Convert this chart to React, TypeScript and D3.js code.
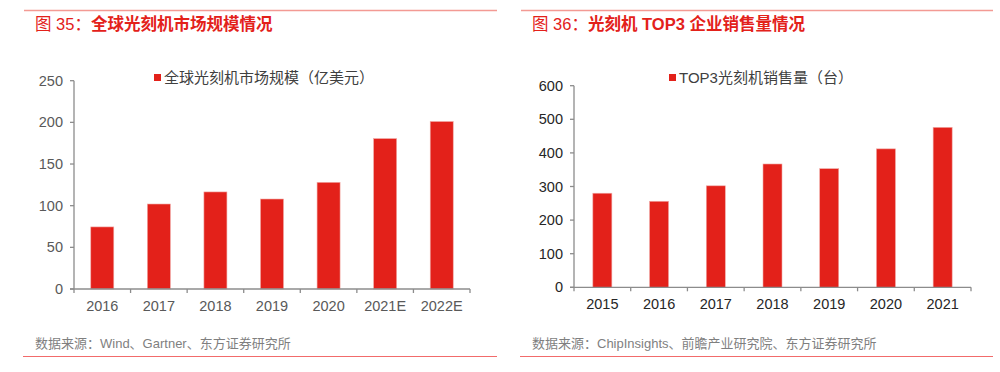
import React from "react";
import * as d3 from "d3";

const leftCategories = ["2016", "2017", "2018", "2019", "2020", "2021E", "2022E"];
const leftValues = [74.5, 102, 116.5, 108, 128, 180.5, 201];
const leftTicks = [0, 50, 100, 150, 200, 250];

const rightCategories = ["2015", "2016", "2017", "2018", "2019", "2020", "2021"];
const rightValues = [280, 256, 302, 367, 353, 412, 476];
const rightTicks = [0, 100, 200, 300, 400, 500, 600];

const RED = "#e3211a";
const AXIS = "#8c8c8c";
const FONT = "'Liberation Sans', Arial, 'Noto Sans CJK SC', sans-serif";

type PanelProps = {
  lineX1: number;
  lineX2: number;
  titleX: number;
  titlePrefix: string;
  titleMain: string;
  legend: string;
  legendX: number;
  source: string;
  categories: string[];
  values: number[];
  ticks: number[];
  yMax: number;
  axisX: number;
  axisRight: number;
  yTop: number;
  yBottom: number;
  barWidth: number;
  labelColor: string;
};

function Panel(p: PanelProps) {
  const x = d3.scaleBand<string>().domain(p.categories).range([p.axisX, p.axisRight]).padding(0);
  const y = d3.scaleLinear().domain([0, p.yMax]).range([p.yBottom, p.yTop]);
  const bw = x.bandwidth();
  const boundaries = p.categories.map((c) => x(c) as number).concat([p.axisRight]);
  return (
    <g>
      <line x1={p.lineX1} x2={p.lineX2} y1={10.5} y2={10.5} stroke="#f39a94" strokeWidth={1.5} />
      <text x={p.titleX} y={30} fontFamily={FONT} fontSize={16.5} fill={RED}>
        <tspan>{p.titlePrefix}</tspan>
        <tspan fontWeight="bold">{p.titleMain}</tspan>
      </text>
      <rect x={p.legendX} y={74} width={7} height={7} fill={RED} />
      <text x={p.legendX + 10} y={82.5} fontFamily={FONT} fontSize={15} fill="#404040">
        {p.legend}
      </text>
      {p.categories.map((c, i) => (
        <rect
          key={c}
          x={(x(c) as number) + (bw - p.barWidth) / 2}
          y={y(p.values[i])}
          width={p.barWidth}
          height={p.yBottom - y(p.values[i])}
          fill={RED}
          stroke="#f0a8a4"
          strokeWidth={0.6}
        />
      ))}
      <line x1={p.axisX} x2={p.axisX} y1={p.yTop} y2={p.yBottom} stroke={AXIS} strokeWidth={1.3} />
      <line x1={p.axisX - 4} x2={p.axisRight} y1={p.yBottom} y2={p.yBottom} stroke={AXIS} strokeWidth={1.3} />
      {p.ticks.map((t) => (
        <g key={t}>
          <line x1={p.axisX - 4} x2={p.axisX} y1={y(t)} y2={y(t)} stroke={AXIS} strokeWidth={1.3} />
          <text
            x={p.axisX - 11}
            y={y(t) + 5}
            textAnchor="end"
            fontFamily={FONT}
            fontSize={14.5}
            fill={p.labelColor}
          >
            {t}
          </text>
        </g>
      ))}
      {boundaries.map((b, i) => (
        <line key={i} x1={b} x2={b} y1={p.yBottom} y2={p.yBottom + 4} stroke={AXIS} strokeWidth={1.3} />
      ))}
      {p.categories.map((c) => (
        <text
          key={c}
          x={(x(c) as number) + bw / 2}
          y={p.yBottom + 22}
          textAnchor="middle"
          fontFamily={FONT}
          fontSize={14.5}
          fill={p.labelColor}
        >
          {c}
        </text>
      ))}
      <text x={p.titleX} y={347.5} fontFamily={FONT} fontSize={13} fill="#7f7f7f">
        {p.source}
      </text>
      <line x1={p.lineX1 - 1} x2={p.lineX2} y1={356.5} y2={356.5} stroke="#f26b6b" strokeWidth={1.2} />
    </g>
  );
}

export default function App() {
  return (
    <svg
      width={1000}
      height={372}
      style={{ position: "absolute", left: 0, top: 0, background: "#fff" }}
    >
      <rect width={1000} height={372} fill="#fff" />
      <Panel
        lineX1={24}
        lineX2={497}
        titleX={35}
        titlePrefix="图 35："
        titleMain="全球光刻机市场规模情况"
        legend="全球光刻机市场规模（亿美元）"
        legendX={154}
        source="数据来源：Wind、Gartner、东方证券研究所"
        categories={leftCategories}
        values={leftValues}
        ticks={leftTicks}
        yMax={250}
        axisX={74}
        axisRight={470}
        yTop={80.7}
        yBottom={289}
        barWidth={23}
        labelColor="#595959"
      />
      <Panel
        lineX1={521}
        lineX2={993}
        titleX={532}
        titlePrefix="图 36："
        titleMain="光刻机 TOP3 企业销售量情况"
        legend="TOP3光刻机销售量（台）"
        legendX={669}
        source="数据来源：ChipInsights、前瞻产业研究院、东方证券研究所"
        categories={rightCategories}
        values={rightValues}
        ticks={rightTicks}
        yMax={600}
        axisX={574}
        axisRight={971}
        yTop={85.7}
        yBottom={287.3}
        barWidth={19}
        labelColor="#262626"
      />
    </svg>
  );
}
